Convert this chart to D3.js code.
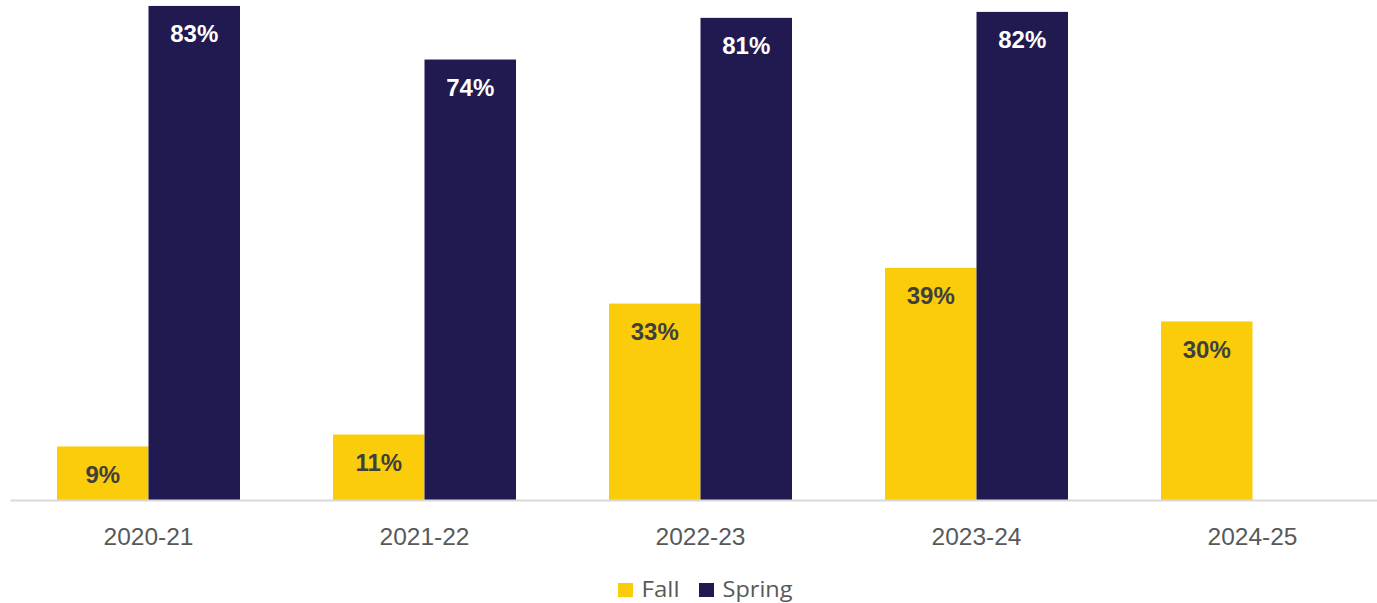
<!DOCTYPE html>
<html>
<head>
<meta charset="utf-8">
<script src="https://cdn.jsdelivr.net/npm/d3@7"></script>
<style>
  html, body { margin: 0; padding: 0; background: #ffffff; }
  svg { display: block; }
</style>
</head>
<body>
<svg id="chart" width="1377" height="603"></svg>
<script>
// School years on the x axis
const years = ["2020-21", "2021-22", "2022-23", "2023-24", "2024-25"];
// Percent values per term (null = no spring value yet)
const fallValues = [9, 11, 33, 39, 30];
const springValues = [83, 74, 81, 82, null];
const seriesNames = ["Fall", "Spring"];
const seriesColors = ["#FACC0A", "#211A50"];
const labelColors = ["#3F3F3F", "#FFFFFF"];

const svg = d3.select("#chart");
const W = 1377, H = 603;
const plotLeft = 10.5, plotRight = 1390.5, plotTop = 0, plotBottom = 500;

const x0 = d3.scaleBand().domain(years).range([plotLeft, plotRight]).paddingInner(0.337).paddingOuter(0.1685);
const x1 = d3.scaleBand().domain(seriesNames).range([0, x0.bandwidth()]);
const y = d3.scaleLinear().domain([0, 84]).range([plotBottom, plotTop]);

const rows = years.map((yr, i) => ({
  year: yr,
  values: [fallValues[i], springValues[i]]
}));

// bars
const groups = svg.append("g").selectAll("g").data(rows).join("g")
  .attr("transform", d => `translate(${x0(d.year)},0)`);

groups.selectAll("rect")
  .data(d => d.values.map((v, k) => ({ v, k })).filter(e => e.v != null))
  .join("rect")
  .attr("x", e => x1(seriesNames[e.k]))
  .attr("width", x1.bandwidth())
  .attr("y", e => y(e.v))
  .attr("height", e => y(0) - y(e.v))
  .attr("fill", e => seriesColors[e.k]);

// value labels inside the bars
groups.selectAll("text")
  .data(d => d.values.map((v, k) => ({ v, k })).filter(e => e.v != null))
  .join("text")
  .attr("x", e => x1(seriesNames[e.k]) + x1.bandwidth() / 2)
  .attr("y", e => y(e.v) + 36.5)
  .attr("text-anchor", "middle")
  .attr("font-family", "Liberation Sans, Arial, sans-serif")
  .attr("font-weight", "bold")
  .attr("font-size", 24)
  .attr("fill", e => labelColors[e.k])
  .text(e => e.v + "%");

// x axis
const xAxis = d3.axisBottom(x0).tickSize(0).tickPadding(0);
const ax = svg.append("g").attr("transform", `translate(0,${plotBottom})`).call(xAxis);
ax.select(".domain").attr("d", `M${plotLeft},0.5H${W}`).attr("stroke", "#D9D9D9").attr("stroke-width", 2);
ax.selectAll(".tick text")
  .attr("y", 44.5)
  .attr("dy", 0)
  .attr("font-family", "Liberation Sans, Arial, sans-serif")
  .attr("font-size", 24.5)
  .attr("fill", "#595959");

// legend
const legendItems = [
  { name: seriesNames[0], color: seriesColors[0], x: 618, w: 38 },
  { name: seriesNames[1], color: seriesColors[1], x: 699, w: 70 }
];
const lg = svg.append("g");
legendItems.forEach(it => {
  lg.append("rect").attr("x", it.x).attr("y", 583).attr("width", 15).attr("height", 14).attr("fill", it.color);
  lg.append("text").attr("x", it.x + 23.5).attr("y", 597)
    .attr("font-family", "Open Sans, Noto Sans, sans-serif")
    .attr("font-size", 21)
    .attr("textLength", it.w)
    .attr("lengthAdjust", "spacingAndGlyphs")
    .attr("fill", "#595959")
    .text(it.name);
});
</script>
</body>
</html>
